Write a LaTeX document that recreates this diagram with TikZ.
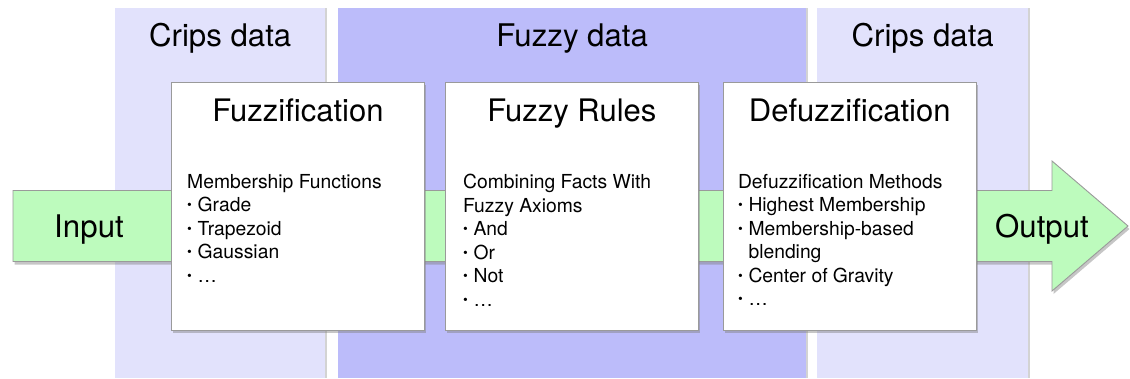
\documentclass[tikz,border=0pt]{standalone}
\usepackage{fontspec}
\setmainfont{TeX Gyre Heros}
\usetikzlibrary{positioning, shadows}

\definecolor{crisplav}{HTML}{E2E2FC}
\definecolor{fuzzylav}{HTML}{BCBCFA}
\definecolor{flowgreen}{HTML}{BDFBBD}
\definecolor{rimgray}{HTML}{9A9A9A}

\tikzset{
  band/.style={inner sep=0pt, anchor=north west, minimum height=370pt,
    drop shadow={shadow xshift=1.5pt, shadow yshift=0pt, opacity=0.35}},
  bandtitle/.style={anchor=base, inner sep=0pt, font=\fontsize{31.2}{36}\selectfont},
  stage/.style={draw=rimgray, line width=0.9pt, fill=white, inner sep=0pt,
    minimum width=253pt, minimum height=248pt,
    drop shadow={shadow xshift=1.5pt, shadow yshift=-3pt, opacity=0.45}},
  stagetitle/.style={anchor=base, inner sep=0pt, font=\fontsize{31}{36}\selectfont},
  stagebody/.style={anchor=north west, inner sep=0pt, align=left,
    font=\fontsize{19.3}{23.5}\selectfont},
  flowlabel/.style={anchor=base, inner sep=0pt, font=\fontsize{31.2}{36}\selectfont}
}
\newcommand{\itm}{\raisebox{0.2ex}{\scalebox{0.7}{\textbullet}}\hspace{0.3em}}

\begin{document}
\begin{tikzpicture}[x=1pt,y=1pt]
  \useasboundingbox (0,0) rectangle (1130,378);

  % data bands
  \node[band, fill=crisplav, minimum width=210pt] (crispin) at (115,370) {};
  \node[band, fill=fuzzylav, minimum width=468pt] (fuzzyband) at (338,370) {};
  \node[band, fill=crisplav, minimum width=211pt] (crispout) at (817,370) {};
  \node[bandtitle] at ([yshift=-39pt]crispin.north) {Crips data};
  \node[bandtitle] at ([yshift=-39pt]fuzzyband.north) {Fuzzy data};
  \node[bandtitle] at ([yshift=-39pt]crispout.north) {Crips data};

  % flow arrow
  \coordinate (tail) at (13,152);
  \coordinate (tip) at (1128,152);
  \draw[draw=rimgray, line width=0.9pt, fill=flowgreen,
        drop shadow={shadow xshift=1.5pt, shadow yshift=-3pt, opacity=0.45}]
    (tail) ++(0,35.5) -- (1052,187.5) -- (1052,217) -- (tip)
    -- (1052,87) -- (1052,116.5) -- (13,116.5) -- cycle;
  \node[flowlabel] (input) at (89,141) {Input};
  \node[flowlabel] (output) at (1042,141) {Output};

  % stages
  \node[stage, anchor=north west] (fuzz) at (171,296) {};
  \node[stage, right=20pt of fuzz] (rules) {};
  \node[stage, right=24pt of rules] (defuzz) {};

  \node[stagetitle] at ([yshift=-40pt]fuzz.north) {Fuzzification};
  \node[stagetitle] at ([yshift=-40pt]rules.north) {Fuzzy Rules};
  \node[stagetitle] at ([yshift=-40pt]defuzz.north) {Defuzzification};

  \node[stagebody] at ([xshift=16pt,yshift=-92pt]fuzz.north west)
    {Membership Functions\\ \itm Grade\\ \itm Trapezoid\\ \itm Gaussian\\ \itm \dots};
  \node[stagebody] at ([xshift=18pt,yshift=-92pt]rules.north west)
    {Combining Facts With\\ Fuzzy Axioms\\ \itm And\\ \itm Or\\ \itm Not\\ \itm \dots};
  \node[stagebody] at ([xshift=15pt,yshift=-92pt]defuzz.north west)
    {Defuzzification Methods\\ \itm Highest Membership\\ \itm Membership-based\\
     \phantom{\itm}blending\\ \itm Center of Gravity\\ \itm \dots};
\end{tikzpicture}
\end{document}
